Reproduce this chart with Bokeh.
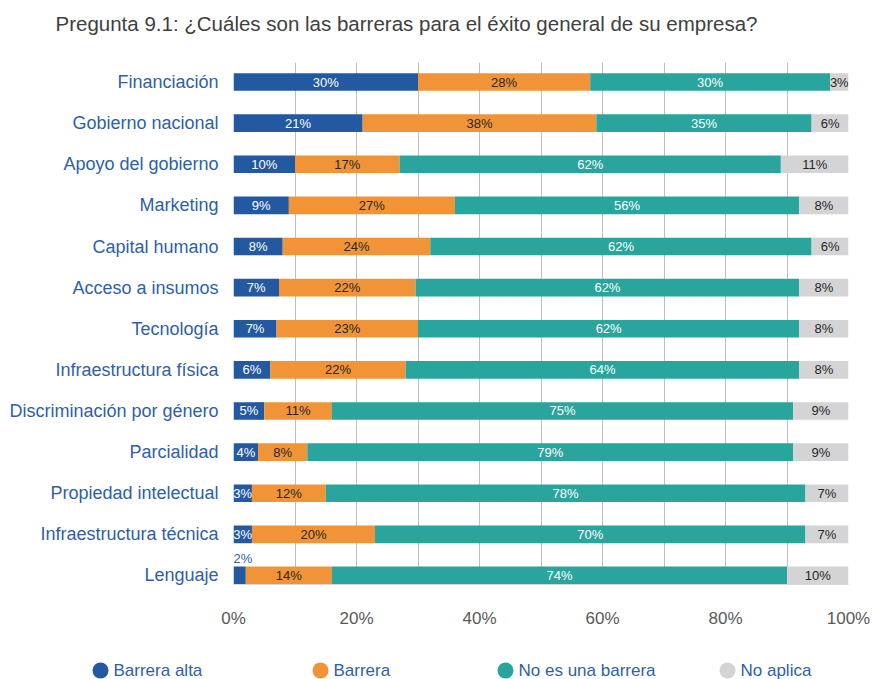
from bokeh.plotting import figure
from bokeh.layouts import column
from bokeh.models import ColumnDataSource, Range1d, FixedTicker, LinearAxis
from bokeh.core.properties import value
from bokeh.embed import file_html
from bokeh.resources import INLINE

title_text = "Pregunta 9.1: ¿Cuáles son las barreras para el éxito general de su empresa?"
categories = ["Financiación", "Gobierno nacional", "Apoyo del gobierno", "Marketing",
              "Capital humano", "Acceso a insumos", "Tecnología", "Infraestructura física",
              "Discriminación por género", "Parcialidad", "Propiedad intelectual",
              "Infraestructura técnica", "Lenguaje"]
series_names = ["Barrera alta", "Barrera", "No es una barrera", "No aplica"]
barrera_alta = [30, 21, 10, 9, 8, 7.4, 7, 6, 5, 4, 3, 3, 2]
barrera = [28, 38, 17, 27, 24, 22.2, 23, 22, 11, 8, 12, 20, 14]
no_es_barrera = [39, 35, 62, 56, 62, 62.4, 62, 64, 75, 79, 78, 70, 74]
no_aplica = [3, 6, 11, 8, 6, 8, 8, 8, 9, 9, 7, 7, 10]
# label printed on the chart where it differs from the bar's value
label_overrides = {(2, 0): "30%"}
x_ticks = [0, 20, 40, 60, 80, 100]
x_tick_labels = ["0%", "20%", "40%", "60%", "80%", "100%"]

colors = ["#2359a1", "#f09437", "#2aa59d", "#d4d4d6"]
label_colors = ["white", "#262626", "white", "#262626"]
cat_color = "#2f5fa7"
FONT = "Liberation Sans"

series = [barrera_alta, barrera, no_es_barrera, no_aplica]
n = len(categories)
ys = [n - 1 - i for i in range(n)]

W = 873
TITLE_H, MAIN_H, LEG_H = 46, 599, 34

# ---- title strip
tf = figure(width=W, height=TITLE_H, output_backend="svg", toolbar_location=None,
            x_range=Range1d(0, W), y_range=Range1d(0, TITLE_H),
            x_axis_location=None, y_axis_location=None, frame_align=False,
            min_border=0, min_border_left=0, min_border_right=0, min_border_top=0, min_border_bottom=0)
tf.outline_line_color = None
tf.grid.visible = False
tf.text(x=[55], y=[TITLE_H - 23], text=[title_text], text_font=value(FONT), text_font_size="20.5px",
        text_color="#404040", text_baseline="middle", text_align="left")

# ---- main chart
p = figure(width=W, height=MAIN_H, output_backend="svg", toolbar_location=None,
           x_range=Range1d(0, 100), y_range=Range1d(-0.22, 12.475),
           x_axis_location=None, y_axis_location=None, frame_align=False,
           min_border_left=233, min_border_right=25, min_border_top=16, min_border_bottom=61)
p.outline_line_color = None
p.background_fill_color = "white"
p.border_fill_color = "white"
p.ygrid.grid_line_color = None
p.xgrid.ticker = FixedTicker(ticks=list(range(0, 101, 10)))
p.xgrid.grid_line_color = "#bfbfbf"
p.xgrid.grid_line_width = 1

data = {"y": ys}
for name, vals in zip(series_names, series):
    data[name] = vals
src = ColumnDataSource(data)
p.hbar_stack(series_names, y="y", height=0.43, color=colors, line_color=None, source=src)

in_x, in_y, in_t, in_c = [], [], [], []
up_x, up_y, up_t = [], [], []
for i in range(n):
    left = 0
    for k, vals in enumerate(series):
        v = vals[i]
        txt = label_overrides.get((k, i), f"{round(v)}%")
        if v < 2.5:
            up_x.append(left); up_y.append(ys[i] + 0.41); up_t.append(txt)
        else:
            in_x.append(left + v / 2); in_y.append(ys[i]); in_t.append(txt); in_c.append(label_colors[k])
        left += v
p.text(x="x", y="y", text="t", text_color="c", source=ColumnDataSource(dict(x=in_x, y=in_y, t=in_t, c=in_c)),
       text_align="center", text_baseline="middle", text_font=value(FONT), text_font_size="13px")
p.text(x="x", y="y", text="t", source=ColumnDataSource(dict(x=up_x, y=up_y, t=up_t)),
       text_color=cat_color, text_align="left", text_baseline="middle",
       text_font=value(FONT), text_font_size="13px")

xaxis = LinearAxis(ticker=FixedTicker(ticks=x_ticks),
                   major_label_overrides={t: l for t, l in zip(x_ticks, x_tick_labels)})
xaxis.axis_line_color = "#d9d9d9"
xaxis.major_tick_line_color = None
xaxis.minor_tick_line_color = None
xaxis.major_label_standoff = 18
xaxis.major_label_text_font = FONT
xaxis.major_label_text_font_size = "17px"
xaxis.major_label_text_color = "#595959"
p.add_layout(xaxis, "below")

yaxis = LinearAxis(ticker=FixedTicker(ticks=ys),
                   major_label_overrides={y: c for y, c in zip(ys, categories)})
yaxis.axis_line_color = None
yaxis.major_tick_line_color = None
yaxis.minor_tick_line_color = None
yaxis.major_label_standoff = 9
yaxis.major_label_text_font = FONT
yaxis.major_label_text_font_size = "18px"
yaxis.major_label_text_color = cat_color
p.add_layout(yaxis, "left")

# ---- legend strip
lf = figure(width=W, height=LEG_H, output_backend="svg", toolbar_location=None,
            x_range=Range1d(0, W), y_range=Range1d(0, LEG_H),
            x_axis_location=None, y_axis_location=None, frame_align=False,
            min_border=0, min_border_left=0, min_border_right=0, min_border_top=0, min_border_bottom=0)
lf.outline_line_color = None
lf.grid.visible = False
legend_x = [100, 320, 505, 727]
leg_y = [LEG_H - 25] * 4
lf.scatter(x=legend_x, y=leg_y, marker="circle", size=16, color=colors, line_color=None)
lf.text(x=[x + 13 for x in legend_x], y=leg_y, text=series_names, text_font=value(FONT),
        text_font_size="17px", text_color=cat_color, text_baseline="middle", text_align="left")

layout = column(tf, p, lf, spacing=0)
open("out.html", "w").write(file_html(layout, INLINE))
